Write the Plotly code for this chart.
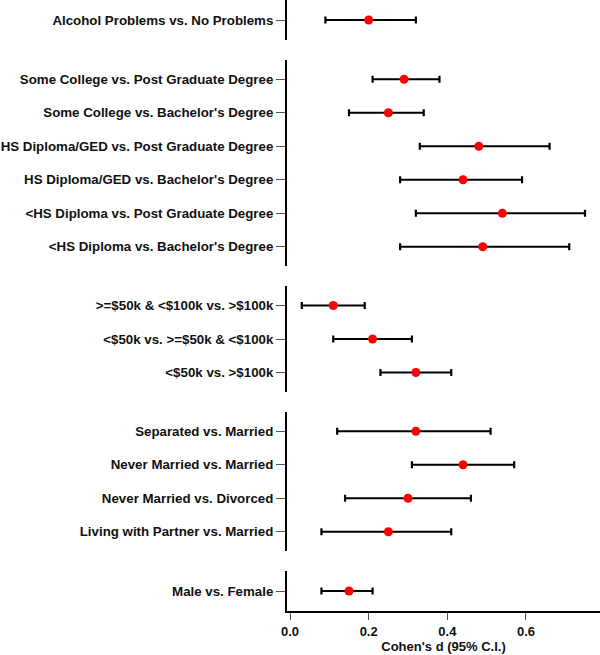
import plotly.graph_objects as go

# ---- data ----
alcohol_labels = ["Alcohol Problems vs. No Problems"]
alcohol_d = [0.20]
alcohol_lo = [0.09]
alcohol_hi = [0.32]

education_labels = [
    "Some College vs. Post Graduate Degree",
    "Some College vs. Bachelor's Degree",
    "HS Diploma/GED vs. Post Graduate Degree",
    "HS Diploma/GED vs. Bachelor's Degree",
    "<HS Diploma vs. Post Graduate Degree",
    "<HS Diploma vs. Bachelor's Degree",
]
education_d = [0.29, 0.25, 0.48, 0.44, 0.54, 0.49]
education_lo = [0.21, 0.15, 0.33, 0.28, 0.32, 0.28]
education_hi = [0.38, 0.34, 0.66, 0.59, 0.75, 0.71]

income_labels = [
    ">=$50k & <$100k vs. >$100k",
    "<$50k vs. >=$50k & <$100k",
    "<$50k vs. >$100k",
]
income_d = [0.11, 0.21, 0.32]
income_lo = [0.03, 0.11, 0.23]
income_hi = [0.19, 0.31, 0.41]

marital_labels = [
    "Separated vs. Married",
    "Never Married vs. Married",
    "Never Married vs. Divorced",
    "Living with Partner vs. Married",
]
marital_d = [0.32, 0.44, 0.30, 0.25]
marital_lo = [0.12, 0.31, 0.14, 0.08]
marital_hi = [0.51, 0.57, 0.46, 0.41]

gender_labels = ["Male vs. Female"]
gender_d = [0.15]
gender_lo = [0.08]
gender_hi = [0.21]

x_ticks = [0.0, 0.2, 0.4, 0.6]
x_tick_labels = ["0.0", "0.2", "0.4", "0.6"]
x_title = "Cohen's d (95% C.I.)"

panels = [
    (alcohol_labels, alcohol_d, alcohol_lo, alcohol_hi),
    (education_labels, education_d, education_lo, education_hi),
    (income_labels, income_d, income_lo, income_hi),
    (marital_labels, marital_d, marital_lo, marital_hi),
    (gender_labels, gender_d, gender_lo, gender_hi),
]

# panel pixel extents (top, bottom) in plot-area pixels (plot area height 611)
H = 611.0
extents = [(0, 40), (60, 266), (286, 392), (412, 551), (571, 611)]
ROW_PX = 33.5

FONT = "Arial, 'Liberation Sans', sans-serif"
fig = go.Figure()
layout_axes = {}
for i, ((labels, d, lo, hi), (top, bot)) in enumerate(zip(panels, extents)):
    n = len(labels)
    pos = list(range(n))
    yname = "y" if i == 0 else f"y{i+1}"
    ykey = "yaxis" if i == 0 else f"yaxis{i+1}"
    fig.add_trace(go.Scatter(
        x=d, y=pos, xaxis="x", yaxis=yname, mode="markers",
        marker=dict(color="#ff0000", size=9, line=dict(width=0)),
        error_x=dict(type="data", symmetric=False,
                     array=[h - v for h, v in zip(hi, d)],
                     arrayminus=[v - l for v, l in zip(d, lo)],
                     color="black", thickness=2.2, width=3.5),
        showlegend=False, hoverinfo="skip",
    ))
    height_units = (bot - top) / ROW_PX
    pad = (height_units - (n - 1)) / 2
    layout_axes[ykey] = dict(
        domain=[(H - bot) / H, (H - top) / H],
        range=[n - 1 + pad, -pad],
        tickvals=pos, ticktext=labels,
        showline=True, linecolor="black", linewidth=2,
        ticks="outside", ticklen=9, tickcolor="#555555", tickwidth=1,
        showgrid=False, zeroline=False, anchor="x",
        tickfont=dict(family=FONT, size=13.3, color="#111111", weight="bold"),
        fixedrange=True,
    )

x0_px = 290.0
px_per_unit = 393.3
left_px = 287.0
right_px = 600.0
fig.update_layout(
    width=600, height=655,
    margin=dict(l=287, r=0, t=0, b=44),
    paper_bgcolor="white", plot_bgcolor="white",
    xaxis=dict(
        range=[(left_px - x0_px) / px_per_unit, (right_px - x0_px) / px_per_unit],
        anchor="y5", tickvals=x_ticks, ticktext=x_tick_labels,
        showline=True, linecolor="black", linewidth=2,
        ticks="outside", ticklen=7, tickcolor="#555555", tickwidth=1,
        showgrid=False, zeroline=False,
        tickfont=dict(family=FONT, size=13, color="#111111", weight="bold"),
        title=dict(text=x_title, standoff=4,
                   font=dict(family=FONT, size=13, color="#111111", weight="bold")),
        fixedrange=True,
    ),
    **layout_axes,
)

fig.write_html("out.html", config={"displayModeBar": False},
               post_script="document.body.style.margin='0';")
